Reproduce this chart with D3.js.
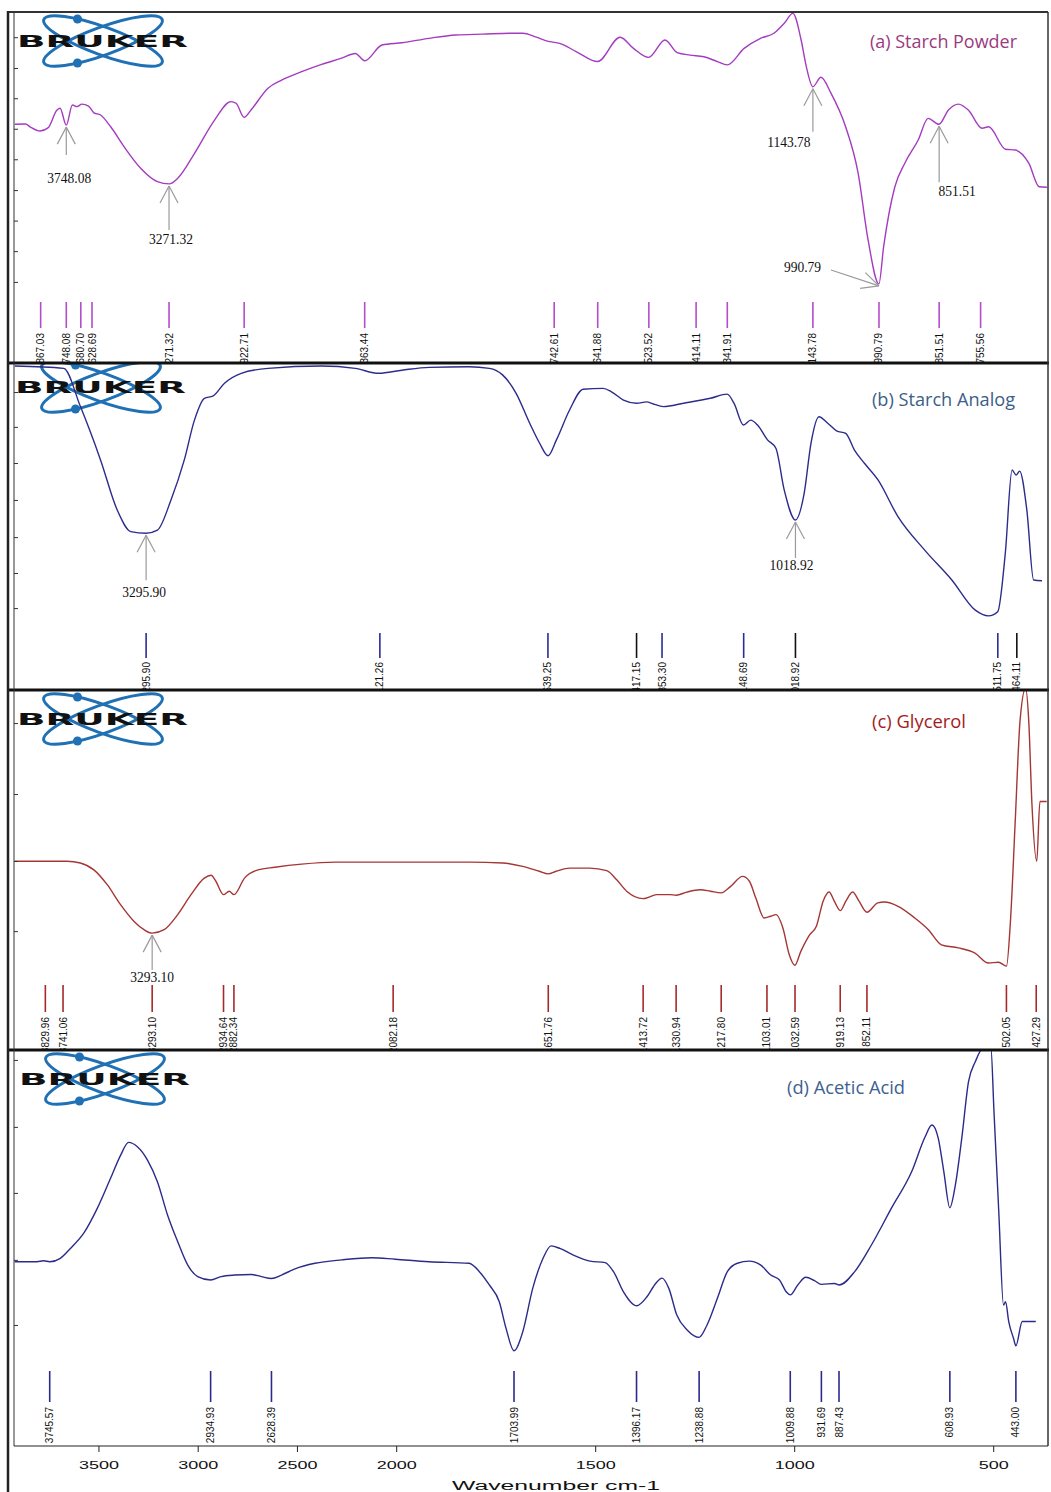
<!DOCTYPE html>
<html>
<head>
<meta charset="utf-8">
<script src="https://cdn.jsdelivr.net/npm/d3@7"></script>
<style>
  body { margin: 0; background: #fff; }
  svg { display: block; }
</style>
</head>
<body>
<div id="chart"></div>
<script>
// spectra: [wavenumber cm-1, transmittance (arbitrary %)]
const starchPowder = [[3987,59.9],[3937,60],[3916,59],[3870,57.5],[3833,58.6],[3791,65],[3777,65.6],[3748,59.6],[3720,66.8],[3698,66.2],[3676,67.1],[3645,66.4],[3620,64],[3589,63.2],[3542,59],[3480,51.9],[3403,44.2],[3325,39.4],[3271,38.6],[3231,40.6],[3153,49.5],[3060,61.4],[2984,68],[2960,67.4],[2923,62.4],[2891,65],[2812,72.8],[2749,75.7],[2656,78.7],[2563,81.3],[2470,83.5],[2407,85.2],[2363,82.6],[2283,88.2],[2190,89],[2065,90.6],[1970,91.8],[1908,92.1],[1846,92.4],[1815,92.4],[1784,91],[1753,89.4],[1730,88.8],[1691,85.8],[1642,82.3],[1590,91],[1559,87],[1524,83.8],[1486,90],[1458,85.5],[1428,84.6],[1396,84],[1365,82.3],[1342,81.1],[1303,87],[1265,90.6],[1234,92.4],[1210,96],[1190,99.5],[1171,90],[1159,80.5],[1144,73.3],[1125,76.7],[1102,71],[1068,59],[1039,42.4],[1016,18.6],[991,2.9],[980,16.2],[954,37.6],[931,46],[900,54.3],[877,62],[852,59.9],[830,65],[807,67.1],[784,65],[752,58.5],[737,59],[698,51],[675,50.7],[644,46],[620,37.6],[602,37.4]];

const starchAnalog = [[3956,99.6],[3710,98.7],[3626,84],[3525,63.5],[3441,44.2],[3373,35.9],[3296,35.3],[3239,36.5],[3171,48.1],[3104,63.5],[3053,78.8],[3003,87.2],[2959,88.1],[2902,93],[2818,96.8],[2683,98.7],[2414,99.6],[2245,98.7],[2127,96.8],[2010,98],[1937,99.1],[1837,99.3],[1786,98.7],[1753,96.2],[1719,89.1],[1685,77.6],[1660,69.9],[1639,65.1],[1618,71.2],[1585,82.7],[1551,90.7],[1501,91],[1480,89.7],[1450,86.5],[1417,85.3],[1392,85.8],[1375,85],[1350,84],[1299,85.3],[1232,87.2],[1190,88.8],[1173,85.3],[1149,76.9],[1131,78.8],[1114,76.9],[1089,71.2],[1068,68],[1047,51.9],[1019,40.4],[997,50.7],[980,69.9],[960,80.1],[938,77.6],[916,74.7],[893,73.7],[871,67.3],[846,62.2],[812,55.8],[762,41.7],[695,28.8],[627,17.3],[569,5.8],[535,3.5],[512,5.1],[493,27.6],[476,59.6],[466,57.7],[457,59.2],[439,44.2],[422,17.3],[401,17]];

const glycerol = [[3984,39.9],[3721,39.9],[3654,39.3],[3586,36.9],[3519,31.7],[3452,24.7],[3384,18.8],[3334,15.9],[3293,14.7],[3233,15.9],[3165,21.2],[3098,28.2],[3031,34],[2997,35],[2973,32.9],[2935,28.2],[2906,29.4],[2882,28.2],[2829,34],[2761,36.9],[2677,37.8],[2542,38.9],[2374,39.6],[2037,39.6],[1850,39.6],[1766,39.3],[1716,38.1],[1674,36.4],[1652,35.5],[1632,36.4],[1598,37.5],[1548,37.5],[1505,36.6],[1480,33.4],[1455,29.4],[1414,26.8],[1405,27],[1380,28.2],[1346,28.2],[1331,28],[1304,29.1],[1270,29.9],[1245,29.4],[1218,28.8],[1194,31.1],[1164,34.6],[1147,32.9],[1131,27],[1110,20],[1094,20.6],[1080,21.2],[1063,16.5],[1047,7.1],[1033,3.4],[1018,8.3],[996,14.1],[979,17.1],[962,25.9],[947,29.1],[934,25.9],[919,22.6],[905,25.9],[888,29.1],[872,25.9],[852,22],[825,25.3],[808,25.6],[774,24.1],[732,20],[698,15.9],[665,10.6],[623,9.5],[581,7.7],[547,4.2],[522,4.5],[502,3.1],[492,18.8],[480,53.9],[468,89],[454,100.5],[446,89],[438,59.8],[426,39.9],[418,60.9],[401,60.9]];

const aceticAcid = [[3922,31.7],[3810,31.7],[3776,32],[3745,31.7],[3692,32.8],[3641,36],[3574,40.9],[3506,48.9],[3439,58.6],[3388,66.1],[3348,70.2],[3304,68.8],[3253,64.5],[3203,57.5],[3152,46.8],[3101,38.2],[3050,30.6],[3000,26.9],[2935,25.8],[2882,26.9],[2814,27.4],[2730,27.6],[2679,26.9],[2628,26.3],[2578,27.4],[2510,29.4],[2409,31.2],[2274,32.3],[2122,33],[2004,32.5],[1918,31.7],[1817,31.2],[1791,28.5],[1766,24.2],[1741,18.8],[1724,10.2],[1704,3],[1682,9.1],[1657,23.1],[1631,32.8],[1611,36.8],[1589,36],[1556,33.9],[1513,31.9],[1475,31.4],[1454,28.5],[1429,22],[1396,17.5],[1370,20.4],[1348,24.7],[1332,26.4],[1315,23.1],[1295,14.5],[1269,9.7],[1239,7.3],[1219,11.3],[1193,19.9],[1168,28.5],[1143,31.2],[1113,31.9],[1084,30.6],[1059,27.4],[1037,25.8],[1020,22],[1010,21],[991,24.2],[971,26.7],[949,25.6],[932,24.4],[899,24.7],[887,24.2],[848,28.5],[806,37.1],[756,48.9],[705,60.7],[671,72],[654,75.8],[638,71.5],[624,60.7],[609,49.1],[595,56.5],[579,71.5],[562,89.8],[545,96.2],[523,101],[506,101],[498,80.1],[486,47.8],[474,17.7],[469,18.8],[461,12.4],[449,7],[443,4.6],[427,12.4],[393,12.4]];

// peak picking tables
const peaksA = ["3867.03","3748.08","3680.70","3628.69","3271.32","2922.71","2363.44","1742.61","1641.88","1523.52","1414.11","1341.91","1143.78","990.79","851.51","755.56"];
const peaksB = ["3295.90","2121.26","1639.25","1417.15","1353.30","1148.69","1018.92","511.75","464.11"];
const peaksC = ["3829.96","3741.06","3293.10","2934.64","2882.34","2082.18","1651.76","1413.72","1330.94","1217.80","1103.01","1032.59","919.13","852.11","502.05","427.29"];
const peaksD = ["3745.57","2934.93","2628.39","1703.99","1396.17","1238.88","1009.88","931.69","887.43","608.93","443.00"];

// arrow call-outs
const notesA = ["3748.08","3271.32","1143.78","990.79","851.51"];
const notesB = ["3295.90","1018.92"];
const notesC = ["3293.10"];

const titles = ["(a) Starch Powder","(b) Starch Analog","(c) Glycerol","(d) Acetic Acid"];
const xTicks = [3500,3000,2500,2000,1500,1000,500];
const yTicksA = [91,80,69.2,58.3,47.4,36.4,25.5,14.6,3.6];
const yTicksB = [89.6,76.2,62.3,48.1,33.8,20,6.5];
const yTicksC = [88.4,63.5,40,15.4];
const yTicksD = [96.8,75.2,53.9,32.3,11.3];

// ---- layout ----
const W = 1051, H = 1492, L = 14, R = 1048;

const panels = [
  {data: starchPowder, peaks: peaksA, notes: notesA, ticks: yTicksA, title: titles[0],
   top: 12, bottom: 363, xDom: [4000,2000,600], xRange: [12,443,1047.8], yRange: [292,12],
   curve: '#a43cc0', mark: '#b54ccb', titleColor: '#9b3a7d', titleX: 870, titleY: 48, titleW: 147,
   logo: [103,41], strip: [302,328], textY: 333, dark: []},
  {data: starchAnalog, peaks: peaksB, notes: notesB, ticks: yTicksB, title: titles[1],
   top: 363, bottom: 690, xDom: [4000,2000,400], xRange: [6,404,1042.4], yRange: [625,365],
   curve: '#2c2c8c', mark: '#2b2b9a', titleColor: '#3c5e86', titleX: 872, titleY: 406, titleW: 143,
   logo: [101,387], strip: [633,658], textY: 662, dark: ["1417.15","1018.92","464.11"]},
  {data: glycerol, peaks: peaksC, notes: notesC, ticks: yTicksC, title: titles[2],
   top: 690, bottom: 1050, xDom: [4000,2000,400], xRange: [11.5,409.5,1047.1], yRange: [975,690],
   curve: '#a53636', mark: '#a52a2a', titleColor: '#a31c1c', titleX: 872, titleY: 728, titleW: 94,
   logo: [103,719], strip: [985,1012], textY: 1017, dark: []},
  {data: aceticAcid, peaks: peaksD, notes: [], ticks: yTicksD, title: titles[3],
   top: 1050, bottom: 1446, xDom: [4000,2000,400], xRange: [-0.8,396.2,1033], yRange: [1360,1050],
   curve: '#2b2b8a', mark: '#2b2b8c', titleColor: '#3d6190', titleX: 787, titleY: 1094, titleW: 118,
   logo: [105,1079], strip: [1371,1402], textY: 1407, dark: []}
];

// where each call-out label sits relative to its arrow tip
const noteLayout = {
  "3748.08": {shaft: 28, dx: 3, dy: 56},
  "3271.32": {shaft: 44, dx: 2, dy: 58},
  "1143.78": {shaft: 43, dx: -24, dy: 58},
  "851.51": {shaft: 56, dx: 18, dy: 70},
  "990.79": {diag: true, lx: 821, ly: 272, sx: 831, sy: 270},
  "3295.90": {shaft: 45, dx: -2, dy: 62},
  "1018.92": {shaft: 36, dx: -4, dy: 48},
  "3293.10": {shaft: 35, dx: 0, dy: 47}
};

const svg = d3.select('#chart').append('svg')
    .attr('width', W)
    .attr('height', H);

function drawLogo(g, cx, cy){
  [20,-20].forEach(a=>{
    g.append('ellipse')
      .attr('cx',cx).attr('cy',cy).attr('rx',63).attr('ry',14)
      .attr('transform',`rotate(${a},${cx},${cy})`)
      .attr('fill','none').attr('stroke','#1f70b4').attr('stroke-width',3);
  });
  g.append('circle').attr('cx',cx-25.5).attr('cy',cy-22).attr('r',4.5).attr('fill','#1f70b4');
  g.append('circle').attr('cx',cx-25.5).attr('cy',cy+22).attr('r',4.5).attr('fill','#1f70b4');
  g.append('text').text('BRUKER')
    .attr('x',cx-86).attr('y',cy+6)
    .attr('font-family','DejaVu Sans, sans-serif').attr('font-weight','bold')
    .attr('font-size',16)
    .attr('textLength',171).attr('lengthAdjust','spacingAndGlyphs')
    .attr('fill','#111');
}

const line = d3.line().curve(d3.curveMonotoneX);

panels.forEach((p,i)=>{
  const x = d3.scaleLinear().domain(p.xDom).range(p.xRange);
  const y = d3.scaleLinear().domain([0,100]).range(p.yRange);
  p.x = x;

  const clipId = 'clip'+i;
  svg.append('clipPath').attr('id',clipId)
    .append('rect').attr('x',L).attr('y',p.top).attr('width',R-L).attr('height',p.bottom-p.top);

  const g = svg.append('g').attr('clip-path',`url(#${clipId})`);

  drawLogo(g, p.logo[0], p.logo[1]);

  // spectrum
  line.x(d=>x(d[0])).y(d=>y(d[1]));
  g.append('path')
    .datum(p.data)
    .attr('d',line)
    .attr('fill','none')
    .attr('stroke',p.curve)
    .attr('stroke-width',1.4);

  // title
  g.append('text').text(p.title)
    .attr('x',p.titleX).attr('y',p.titleY)
    .attr('font-family','Liberation Sans Narrow, Open Sans, sans-serif')
    .attr('font-size',19)
    .attr('textLength',p.titleW).attr('lengthAdjust','spacingAndGlyphs')
    .attr('fill',p.titleColor);

  // peak table marks
  g.selectAll('line.pk')
    .data(p.peaks)
    .enter()
    .append('line')
    .attr('x1',d=>x(+d)).attr('x2',d=>x(+d))
    .attr('y1',p.strip[0]).attr('y2',p.strip[1])
    .attr('stroke',d=>p.dark.includes(d)?'#111':p.mark)
    .attr('stroke-width',1.6);

  g.selectAll('text.pk')
    .data(p.peaks)
    .enter()
    .append('text')
    .text(d=>d)
    .attr('transform',d=>`translate(${x(+d)+3.5},${p.textY}) rotate(-90)`)
    .attr('text-anchor','end')
    .attr('font-family','Liberation Sans, Arial, sans-serif')
    .attr('font-size',10)
    .attr('fill','#111');

  // arrows with labels
  p.notes.forEach(n=>{
    const pt = p.data.reduce((a,b)=>Math.abs(b[0]-n)<Math.abs(a[0]-n)?b:a);
    const tx = x(+n), ty = y(pt[1])+2;
    const lay = noteLayout[n];
    const arrow = svg.append('g').attr('stroke','#9a9a9a').attr('stroke-width',1.2).attr('fill','none');
    let lx, ly, anchor = 'middle';
    if(lay.diag){
      arrow.append('line').attr('x1',lay.sx).attr('y1',lay.sy).attr('x2',tx).attr('y2',ty);
      const ang = Math.atan2(ty-lay.sy, tx-lay.sx);
      [0.45,-0.45].forEach(o=>{
        arrow.append('line').attr('x1',tx).attr('y1',ty)
          .attr('x2',tx-19*Math.cos(ang+o)).attr('y2',ty-19*Math.sin(ang+o));
      });
      lx = lay.lx; ly = lay.ly; anchor = 'end';
    } else {
      arrow.append('line').attr('x1',tx).attr('y1',ty).attr('x2',tx).attr('y2',ty+lay.shaft);
      arrow.append('line').attr('x1',tx).attr('y1',ty).attr('x2',tx-9).attr('y2',ty+17);
      arrow.append('line').attr('x1',tx).attr('y1',ty).attr('x2',tx+9).attr('y2',ty+17);
      lx = tx+lay.dx; ly = ty+lay.dy;
    }
    const t = svg.append('text').text(n)
      .attr('x',lx).attr('y',ly)
      .attr('text-anchor',anchor)
      .attr('font-family','Liberation Serif, Times New Roman, serif')
      .attr('font-size',15)
      .attr('fill','#111');
    t.attr('textLength', t.node().getComputedTextLength()*0.9).attr('lengthAdjust','spacingAndGlyphs');
  });

  // small y ticks on the inner left edge
  const ya = svg.append('g').attr('transform',`translate(${L},0)`)
    .call(d3.axisRight(y).tickValues(p.ticks).tickSize(4).tickFormat(''));
  ya.select('.domain').remove();
  ya.selectAll('line').attr('stroke','#333');
});

// frame
const frame = svg.append('g').attr('fill','none');
frame.append('line').attr('x1',7).attr('x2',R).attr('y1',12).attr('y2',12).attr('stroke','#333').attr('stroke-width',2);
[363,690,1050].forEach(yy=>{
  frame.append('line').attr('x1',7).attr('x2',R+1).attr('y1',yy).attr('y2',yy).attr('stroke','#111').attr('stroke-width',3);
});
frame.append('line').attr('x1',8).attr('x2',8).attr('y1',11).attr('y2',H).attr('stroke','#222').attr('stroke-width',2.5);
frame.append('line').attr('x1',L).attr('x2',L).attr('y1',12).attr('y2',1446).attr('stroke','#333').attr('stroke-width',1);
frame.append('line').attr('x1',R).attr('x2',R).attr('y1',12).attr('y2',1446).attr('stroke','#333').attr('stroke-width',1.5);

// bottom wavenumber axis (belongs to panel d)
const pd = panels[3];
const xa = svg.append('g').attr('transform','translate(0,1446)')
  .call(d3.axisBottom(pd.x).tickValues(xTicks).tickFormat(d3.format('d')).tickSize(6).tickPadding(9));
xa.select('.domain').remove();
xa.selectAll('line').attr('stroke','#222');
xa.selectAll('text')
  .attr('font-family','Liberation Sans, Arial, sans-serif')
  .attr('font-size',11.5)
  .attr('fill','#111')
  .attr('textLength',d=>String(d).length*10)
  .attr('lengthAdjust','spacingAndGlyphs');
svg.append('line').attr('x1',L).attr('x2',R).attr('y1',1446).attr('y2',1446).attr('stroke','#222').attr('stroke-width',1.2);

svg.append('text').text('Wavenumber cm-1')
  .attr('x',556).attr('y',1490)
  .attr('text-anchor','middle')
  .attr('font-family','Liberation Sans, Arial, sans-serif')
  .attr('font-size',12)
  .attr('textLength',208).attr('lengthAdjust','spacingAndGlyphs')
  .attr('fill','#111');
</script>
</body>
</html>
